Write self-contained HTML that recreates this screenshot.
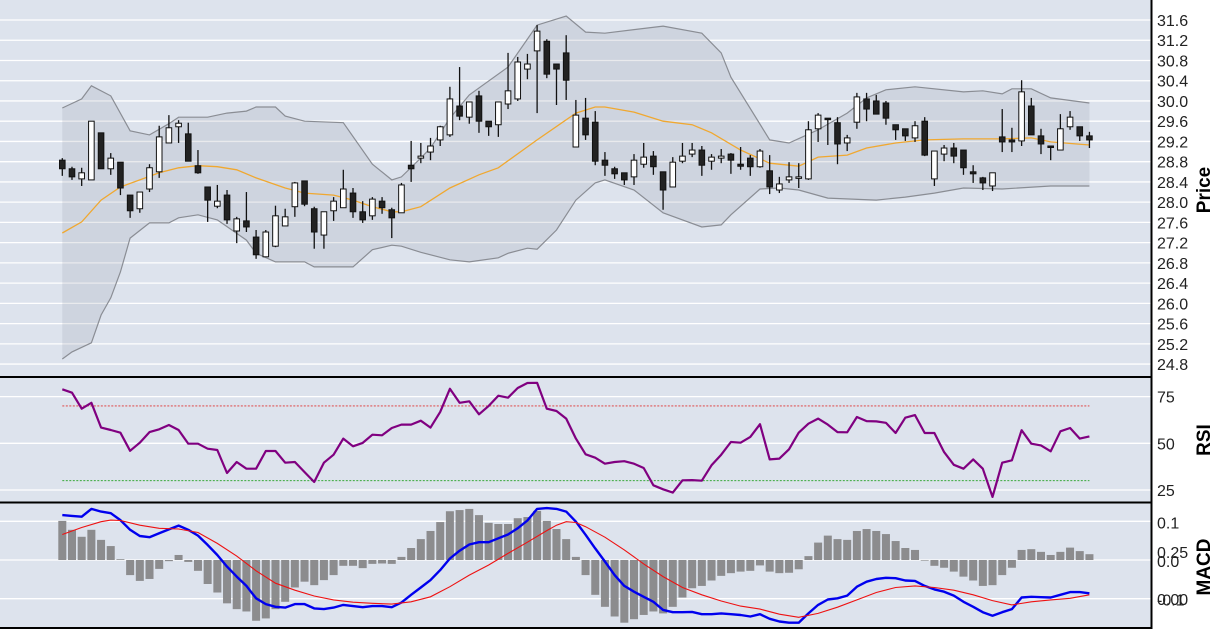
<!DOCTYPE html>
<html><head><meta charset="utf-8">
<style>
html,body{margin:0;padding:0;background:#fff;}
svg{display:block;font-family:"Liberation Sans",Arial,sans-serif;}
</style></head>
<body>
<svg id="chart" width="1214" height="629" viewBox="0 0 1214 629" xmlns="http://www.w3.org/2000/svg">
  <rect x="0" y="0" width="1151" height="377" fill="#dde3ed"/>
  <rect x="0" y="378" width="1151" height="124" fill="#dde3ed"/>
  <rect x="0" y="503" width="1151" height="125" fill="#dde3ed"/>
  <g id="grid"></g>
  <g id="bands"></g>
  <g id="candles"></g>
  <g id="rsi"></g>
  <g id="macd"></g>
  <g id="axes"></g>
  <line x1="0" y1="377" x2="1152" y2="377" stroke="#000" stroke-width="2"/>
  <line x1="0" y1="502.5" x2="1152" y2="502.5" stroke="#000" stroke-width="2"/>
  <line x1="0" y1="628" x2="1152" y2="628" stroke="#000" stroke-width="2"/>
  <line x1="1151.5" y1="0" x2="1151.5" y2="629" stroke="#000" stroke-width="2"/>
  <text transform="translate(1210,190) rotate(-90)" text-anchor="middle" font-size="19" font-weight="bold">Price</text>
  <text transform="translate(1210,440) rotate(-90)" text-anchor="middle" font-size="19" font-weight="bold">RSI</text>
  <text transform="translate(1210,567) rotate(-90)" text-anchor="middle" font-size="19" font-weight="bold">MACD</text>
</svg>
<script>
const open=[28.83,28.66,28.46,28.44,29.37,28.66,28.79,28.14,27.87,28.26,28.60,29.17,29.49,29.35,28.72,28.30,27.92,28.14,27.43,27.63,27.31,26.92,27.13,27.53,27.91,28.42,27.87,27.35,27.83,27.89,28.18,27.81,27.73,28.02,27.85,27.79,28.73,28.87,28.99,29.23,29.33,29.90,29.68,30.10,29.60,29.53,29.94,30.04,30.63,30.99,31.18,30.73,30.95,29.09,29.66,29.58,28.83,28.66,28.58,28.50,28.75,28.91,28.60,28.30,28.81,28.95,29.03,28.81,28.87,28.95,28.75,28.87,28.70,28.62,28.24,28.44,28.48,28.46,29.45,29.66,29.57,29.17,29.58,30.04,30.00,29.96,29.53,29.45,29.27,29.60,28.46,28.95,29.07,29.03,28.60,28.48,28.32,29.29,29.23,29.21,29.90,29.31,29.11,29.03,29.49,29.49,29.31];
const high=[28.87,28.70,28.68,29.60,29.37,28.97,28.79,28.14,28.20,28.75,29.51,29.72,29.62,29.57,29.03,28.30,28.34,28.24,27.71,28.20,27.45,27.45,27.93,27.87,28.40,28.42,27.91,27.81,28.10,28.64,28.28,28.02,28.10,28.10,27.89,28.38,29.21,29.17,29.27,29.51,30.28,30.67,29.98,30.20,29.60,29.98,30.95,30.87,30.93,31.50,31.22,30.73,31.30,30.02,30.06,29.80,28.99,28.70,28.58,28.95,29.17,29.01,28.60,28.89,29.17,29.17,29.11,28.95,29.05,28.97,29.09,28.93,29.05,28.93,28.50,28.79,28.77,29.60,29.76,29.66,29.68,29.33,30.16,30.16,30.12,30.00,29.53,29.45,29.60,29.68,29.01,29.13,29.17,29.03,28.73,28.50,28.58,29.84,29.47,30.41,30.06,29.45,29.11,29.74,29.80,29.49,29.39];
const low=[28.52,28.44,28.32,28.44,28.66,28.54,28.14,27.69,27.79,28.20,28.48,29.17,29.17,28.81,28.56,27.61,27.88,27.57,27.19,27.41,26.88,26.92,27.11,27.53,27.71,27.92,27.08,27.08,27.63,27.89,27.69,27.59,27.65,27.77,27.29,27.79,28.40,28.77,28.83,29.11,29.29,29.62,29.55,29.37,29.31,29.29,29.84,30.00,30.43,29.76,30.45,29.92,30.02,29.09,29.23,28.73,28.52,28.46,28.34,28.34,28.68,28.54,27.85,28.30,28.77,28.89,28.52,28.64,28.77,28.56,28.64,28.52,28.68,28.16,28.18,28.38,28.28,28.44,29.19,29.13,28.75,29.01,29.45,29.60,29.74,29.53,29.23,29.21,29.19,28.91,28.32,28.81,28.77,28.54,28.38,28.24,28.22,28.99,28.99,29.11,29.33,28.95,28.83,29.03,29.43,29.21,29.07];
const close=[28.66,28.50,28.58,29.60,28.66,28.87,28.28,27.83,28.20,28.68,29.29,29.47,29.56,28.81,28.58,28.04,28.02,27.65,27.67,27.51,26.96,27.41,27.73,27.71,28.38,27.96,27.41,27.81,28.02,28.26,27.81,27.65,28.06,27.89,27.69,28.34,28.66,28.91,29.11,29.49,30.04,29.70,29.98,29.60,29.49,29.98,30.20,30.77,30.73,31.38,30.53,30.63,30.41,29.72,29.33,28.81,28.73,28.56,28.44,28.83,28.89,28.70,28.24,28.79,28.91,29.03,28.73,28.89,28.91,28.83,28.71,28.70,29.01,28.30,28.36,28.50,28.50,29.43,29.72,29.64,29.15,29.27,30.08,29.84,29.74,29.66,29.43,29.31,29.51,28.93,29.01,29.07,28.91,28.68,28.56,28.38,28.58,29.19,29.19,30.18,29.33,29.15,29.09,29.45,29.68,29.31,29.23];
const upperIdx=[0,2,3,5,7,9,11,12,15,17,19,20,22,23,25,29,32,34,35,37,38,40,42,46,49,52,54,56,62,66,68,69,73,75,78,81,83,85,88,93,95,97,98,100,102,106];
const upperVal=[29.86,30.04,30.30,30.10,29.41,29.33,29.55,29.68,29.68,29.76,29.80,29.88,29.88,29.70,29.60,29.57,28.75,28.44,28.50,28.87,29.07,29.66,30.12,30.67,31.50,31.68,31.36,31.34,31.48,31.34,30.95,30.47,29.23,29.17,29.43,29.76,30.06,30.22,30.28,30.18,30.20,30.14,30.24,30.24,30.06,29.96];
const lowerIdx=[0,1,3,4,5,6,7,9,11,12,14,16,19,20,22,25,26,30,32,34,35,37,40,42,45,46,48,49,51,53,55,56,59,62,66,68,69,72,74,76,79,84,87,90,93,97,102,106];
const lowerVal=[24.90,25.04,25.22,25.77,26.11,26.62,27.29,27.59,27.59,27.69,27.75,27.65,27.25,26.99,26.82,26.82,26.72,26.72,27.06,27.15,27.13,27.01,26.86,26.82,26.90,26.99,27.09,27.07,27.45,28.04,28.38,28.44,28.24,27.79,27.51,27.55,27.75,28.26,28.28,28.24,28.08,28.04,28.10,28.18,28.28,28.26,28.32,28.32];
const maIdx=[0,2,4,6,8,10,12,14,16,18,20,23,25,28,30,32,34,35,37,40,43,45,49,53,55,56,59,62,65,67,70,73,76,78,81,83,86,89,93,97,100,102,106];
const maVal=[27.39,27.61,28.04,28.30,28.44,28.58,28.68,28.72,28.70,28.64,28.48,28.28,28.18,28.14,28.04,27.91,27.81,27.81,27.91,28.28,28.54,28.68,29.23,29.76,29.88,29.88,29.78,29.60,29.53,29.37,29.03,28.77,28.71,28.89,28.93,29.07,29.17,29.23,29.25,29.25,29.27,29.19,29.13];
const rsiVal=[78.9,77.1,68.5,71.7,58.4,57.1,55.7,46.0,50.3,56.0,57.5,59.8,57.1,49.8,49.8,47.1,46.4,34.1,40.0,36.4,36.4,45.9,45.9,39.6,40.0,34.6,29.3,39.6,43.9,52.5,48.4,50.2,54.6,54.3,58.2,60.0,60.0,62.1,58.4,66.8,79.2,71.7,72.5,65.5,70.0,75.5,74.4,79.6,82.3,82.4,68.5,67.3,63.2,52.5,44.1,42.3,39.1,40.0,40.4,39.1,36.8,27.5,25.4,23.6,30.2,30.3,30.0,38.2,43.9,50.7,50.3,53.4,60.2,41.4,41.8,46.8,55.7,60.5,63.2,60.0,56.0,55.9,64.1,61.9,61.7,61.0,55.5,63.7,65.1,55.5,55.5,45.3,38.5,36.4,41.4,36.4,21.3,39.6,40.9,57.0,49.8,48.9,45.7,56.4,58.2,52.5,53.7];
const macdVal=[0.116,0.114,0.112,0.132,0.125,0.121,0.103,0.078,0.062,0.059,0.069,0.079,0.089,0.078,0.063,0.039,0.013,-0.017,-0.043,-0.067,-0.099,-0.114,-0.121,-0.123,-0.114,-0.114,-0.125,-0.127,-0.123,-0.116,-0.119,-0.122,-0.119,-0.119,-0.122,-0.110,-0.090,-0.071,-0.052,-0.026,0.004,0.024,0.040,0.046,0.046,0.056,0.066,0.082,0.102,0.132,0.134,0.132,0.125,0.099,0.065,0.030,-0.004,-0.039,-0.067,-0.082,-0.095,-0.108,-0.129,-0.135,-0.135,-0.134,-0.140,-0.140,-0.138,-0.140,-0.142,-0.146,-0.140,-0.152,-0.159,-0.162,-0.162,-0.138,-0.116,-0.102,-0.099,-0.092,-0.069,-0.056,-0.049,-0.046,-0.047,-0.053,-0.054,-0.067,-0.076,-0.082,-0.092,-0.108,-0.121,-0.135,-0.144,-0.135,-0.127,-0.097,-0.095,-0.096,-0.097,-0.090,-0.083,-0.083,-0.086];
const sigIdx=[0,2,4,5,6,8,10,12,14,16,18,20,22,24,26,28,30,32,34,36,38,40,42,44,46,48,50,51,52,53,54,56,58,60,62,64,66,68,70,72,74,76,78,80,82,84,86,88,90,92,94,96,98,100,102,104,106];
const sigVal=[0.066,0.084,0.099,0.103,0.102,0.090,0.082,0.080,0.071,0.043,0.010,-0.028,-0.060,-0.078,-0.093,-0.103,-0.109,-0.112,-0.114,-0.108,-0.095,-0.069,-0.039,-0.013,0.017,0.046,0.076,0.090,0.099,0.097,0.086,0.059,0.026,-0.010,-0.043,-0.071,-0.090,-0.106,-0.119,-0.127,-0.140,-0.148,-0.138,-0.122,-0.103,-0.084,-0.071,-0.067,-0.071,-0.078,-0.090,-0.105,-0.116,-0.108,-0.103,-0.099,-0.090];
const histVal=[0.101,0.078,0.060,0.078,0.052,0.036,0.002,-0.039,-0.054,-0.049,-0.023,-0.003,0.013,-0.005,-0.028,-0.062,-0.084,-0.112,-0.127,-0.133,-0.157,-0.151,-0.127,-0.108,-0.071,-0.056,-0.065,-0.052,-0.039,-0.015,-0.015,-0.021,-0.010,-0.009,-0.010,0.008,0.031,0.054,0.075,0.098,0.126,0.129,0.132,0.116,0.096,0.093,0.093,0.108,0.111,0.127,0.101,0.080,0.054,0.008,-0.039,-0.090,-0.121,-0.146,-0.162,-0.153,-0.142,-0.133,-0.138,-0.121,-0.097,-0.073,-0.067,-0.053,-0.041,-0.034,-0.030,-0.028,-0.014,-0.030,-0.034,-0.033,-0.024,0.010,0.045,0.063,0.054,0.052,0.075,0.080,0.075,0.067,0.049,0.031,0.026,0,-0.015,-0.020,-0.030,-0.043,-0.053,-0.067,-0.065,-0.039,-0.020,0.026,0.028,0.021,0.013,0.021,0.032,0.023,0.015];
const priceTicks=[24.8,25.2,25.6,26.0,26.4,26.8,27.2,27.6,28.0,28.4,28.8,29.2,29.6,30.0,30.4,30.8,31.2,31.6];
const rsiTicks=[25,50,75];
const macdTicks=[-0.1,0.0,0.1];

const NS="http://www.w3.org/2000/svg";
function mk(tag,attrs,parent){const e=document.createElementNS(NS,tag);for(const k in attrs)e.setAttribute(k,attrs[k]);parent.appendChild(e);return e;}
const X=i=>62.3+i*9.69;
const PY=p=>20+(31.6-p)*50.6;
const RY=r=>443.3-(r-50)*1.868;
const MY=v=>560-v*387;
const grid=document.getElementById('grid'),axes=document.getElementById('axes');
priceTicks.forEach(t=>{
  const l=mk('line',{x1:0,x2:1151,y1:PY(t),y2:PY(t),stroke:'#fff','stroke-width':1.3},grid);
  
  
  const tx=mk('text',{x:1157,y:PY(t)+6,'font-size':16,fill:'#222'},axes);tx.textContent=t.toFixed(1);
  
  
});
rsiTicks.forEach(t=>{
  const l=mk('line',{x1:0,x2:1151,y1:RY(t),y2:RY(t),stroke:'#fff','stroke-width':1.3},grid);
  
  
  const tx=mk('text',{x:1157,y:RY(t)+6,'font-size':16,fill:'#222'},axes);tx.textContent=t;
  
  
});
macdTicks.forEach(t=>{
  const l=mk('line',{x1:0,x2:1151,y1:MY(t),y2:MY(t),stroke:'#fff','stroke-width':1.3},grid);
  
  
  const tx=mk('text',{x:1157,y:MY(t)+7,'font-size':16,fill:'#222'},axes);tx.textContent=t.toFixed(1);
  
  
});
[['0.25',558],['0.00',605]].forEach(a=>{
  const tx=mk('text',{x:1157,y:a[1],'font-size':16,fill:'#222'},axes);tx.textContent=a[0];
  
  
});
// bands
const bands=document.getElementById('bands');
let d='';
upperIdx.forEach((i,k)=>{d+=(k?'L':'M')+X(i)+','+PY(upperVal[k]);});
for(let k=lowerIdx.length-1;k>=0;k--)d+='L'+X(lowerIdx[k])+','+PY(lowerVal[k]);
const fill=mk('path',{d:d+'Z',fill:'#9aa0ad','fill-opacity':0.22,stroke:'none'},bands);


function line(idx,val,Y,attrs,parent){let p='';idx.forEach((i,k)=>{p+=(k?'L':'M')+X(i).toFixed(1)+','+Y(val[k]).toFixed(1);});attrs.d=p;attrs.fill='none';return mk('path',attrs,parent);}
const ub=line(upperIdx,upperVal,PY,{stroke:'#8a8d94','stroke-width':1.2},bands);


const lb=line(lowerIdx,lowerVal,PY,{stroke:'#8a8d94','stroke-width':1.2},bands);


const ma=line(maIdx,maVal,PY,{stroke:'#f0a830','stroke-width':1.3},bands);


// candles
const cg=document.getElementById('candles');
open.forEach((o,i)=>{
  const c=close[i],x=X(i),up=c>=o;
  const w=mk('line',{x1:x,x2:x,y1:PY(high[i]),y2:PY(low[i]),stroke:'#111','stroke-width':1.3},cg);
  
  
  const top=PY(Math.max(o,c)),h=Math.max(1.5,Math.abs(PY(o)-PY(c)));
  const b=mk('rect',{x:x-2.8,y:top,width:5.6,height:h,fill:up?'#fff':'#222',stroke:'#111','stroke-width':1},cg);
  
  
});
// RSI
const rg=document.getElementById('rsi');
const ob=mk('line',{x1:X(0),x2:X(106),y1:RY(70),y2:RY(70),stroke:'#e03030','stroke-width':0.9,'stroke-dasharray':'2,1.5'},rg);


const os=mk('line',{x1:X(0),x2:X(106),y1:RY(30),y2:RY(30),stroke:'#20a020','stroke-width':0.9,'stroke-dasharray':'2,1.5'},rg);


const rl=line(rsiVal.map((v,i)=>i),rsiVal,RY,{stroke:'#800080','stroke-width':2.2,'stroke-linejoin':'round'},rg);


// MACD
const mg=document.getElementById('macd');
histVal.forEach((v,i)=>{
  const y0=MY(0),y1=MY(v);
  const r=mk('rect',{x:X(i)-4,y:Math.min(y0,y1),width:8,height:Math.max(0.6,Math.abs(y1-y0)),fill:'#8c8c8e'},mg);
  
  
});
const ml=line(macdVal.map((v,i)=>i),macdVal,MY,{stroke:'#0000ee','stroke-width':2.4,'stroke-linejoin':'round'},mg);


const sl=line(sigIdx,sigVal,MY,{stroke:'#ee1111','stroke-width':1.1},mg);


</script>
</body></html>
